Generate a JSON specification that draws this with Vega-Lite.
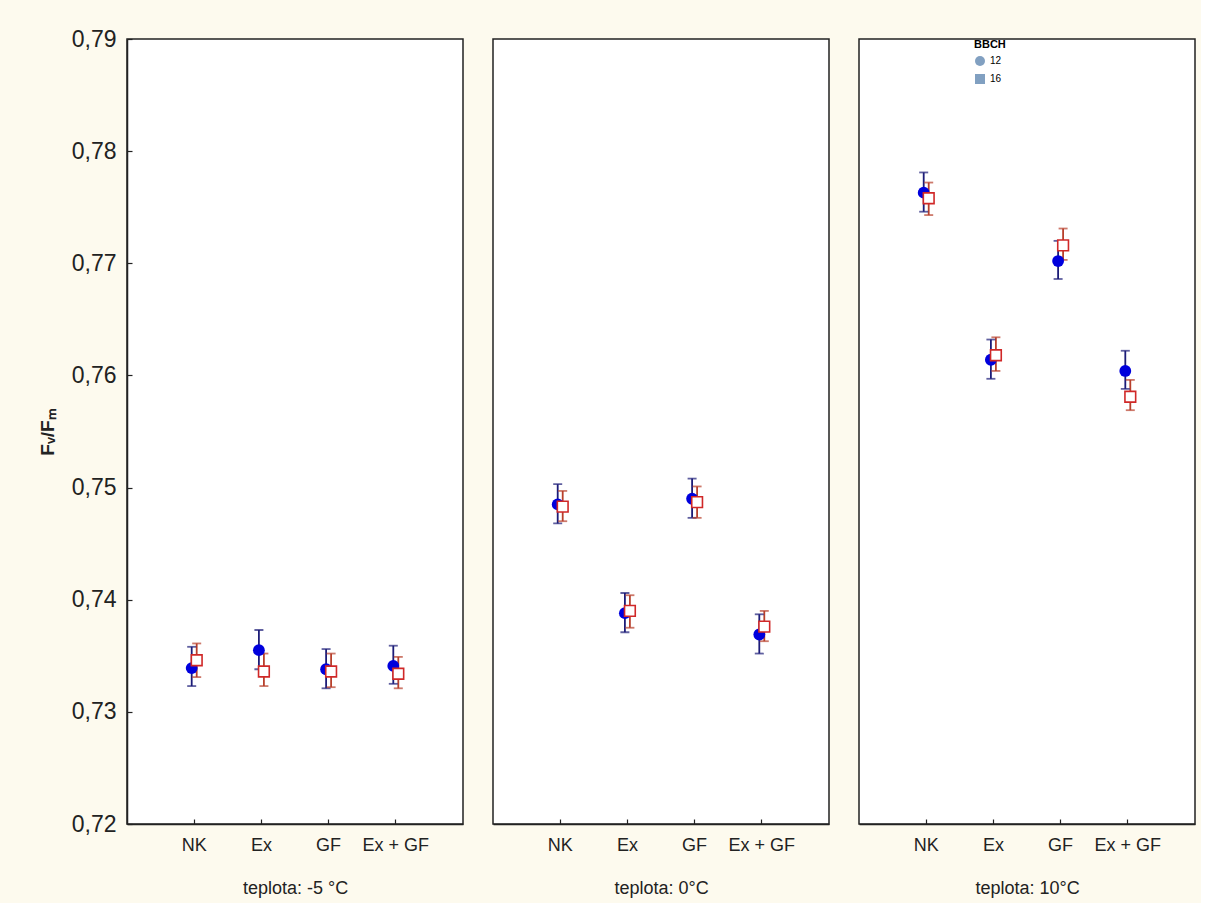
{
  "$schema": "https://vega.github.io/schema/vega-lite/v6.json",
  "background": "#fdfaee",
  "padding": {"left": 37, "top": 27, "right": 5, "bottom": 5},
  "spacing": 28,
  "config": {
    "view": {"fill": "white", "stroke": "#222222", "strokeWidth": 1.5},
    "axis": {"grid": false, "labelFont": "Liberation Sans", "labelFontSize": 18, "labelColor": "#222222", "titleColor": "#222222", "domainColor": "#222222", "tickColor": "#222222", "domainWidth": 1.5, "tickWidth": 1.2}
  },
  "data": {"values": [
    {"temp": "-5", "trt": "NK", "BBCH": "12", "mean": 0.7339, "lo": 0.7323, "hi": 0.7358},
    {"temp": "-5", "trt": "NK", "BBCH": "16", "mean": 0.7346, "lo": 0.7331, "hi": 0.7361},
    {"temp": "-5", "trt": "Ex", "BBCH": "12", "mean": 0.7355, "lo": 0.7338, "hi": 0.7373},
    {"temp": "-5", "trt": "Ex", "BBCH": "16", "mean": 0.7336, "lo": 0.7323, "hi": 0.7352},
    {"temp": "-5", "trt": "GF", "BBCH": "12", "mean": 0.7338, "lo": 0.7321, "hi": 0.7356},
    {"temp": "-5", "trt": "GF", "BBCH": "16", "mean": 0.7336, "lo": 0.7322, "hi": 0.7352},
    {"temp": "-5", "trt": "Ex + GF", "BBCH": "12", "mean": 0.7341, "lo": 0.7325, "hi": 0.7359},
    {"temp": "-5", "trt": "Ex + GF", "BBCH": "16", "mean": 0.7334, "lo": 0.7321, "hi": 0.7349},
    {"temp": "0", "trt": "NK", "BBCH": "12", "mean": 0.7485, "lo": 0.7468, "hi": 0.7503},
    {"temp": "0", "trt": "NK", "BBCH": "16", "mean": 0.7483, "lo": 0.7470, "hi": 0.7497},
    {"temp": "0", "trt": "Ex", "BBCH": "12", "mean": 0.7388, "lo": 0.7371, "hi": 0.7406},
    {"temp": "0", "trt": "Ex", "BBCH": "16", "mean": 0.7390, "lo": 0.7375, "hi": 0.7404},
    {"temp": "0", "trt": "GF", "BBCH": "12", "mean": 0.7490, "lo": 0.7473, "hi": 0.7508},
    {"temp": "0", "trt": "GF", "BBCH": "16", "mean": 0.7487, "lo": 0.7473, "hi": 0.7501},
    {"temp": "0", "trt": "Ex + GF", "BBCH": "12", "mean": 0.7369, "lo": 0.7352, "hi": 0.7387},
    {"temp": "0", "trt": "Ex + GF", "BBCH": "16", "mean": 0.7376, "lo": 0.7363, "hi": 0.7390},
    {"temp": "10", "trt": "NK", "BBCH": "12", "mean": 0.7763, "lo": 0.7746, "hi": 0.7781},
    {"temp": "10", "trt": "NK", "BBCH": "16", "mean": 0.7758, "lo": 0.7743, "hi": 0.7772},
    {"temp": "10", "trt": "Ex", "BBCH": "12", "mean": 0.7614, "lo": 0.7597, "hi": 0.7632},
    {"temp": "10", "trt": "Ex", "BBCH": "16", "mean": 0.7618, "lo": 0.7604, "hi": 0.7634},
    {"temp": "10", "trt": "GF", "BBCH": "12", "mean": 0.7702, "lo": 0.7686, "hi": 0.7720},
    {"temp": "10", "trt": "GF", "BBCH": "16", "mean": 0.7716, "lo": 0.7703, "hi": 0.7731},
    {"temp": "10", "trt": "Ex + GF", "BBCH": "12", "mean": 0.7604, "lo": 0.7588, "hi": 0.7622},
    {"temp": "10", "trt": "Ex + GF", "BBCH": "16", "mean": 0.7581, "lo": 0.7569, "hi": 0.7596}
  ]},
  "hconcat": [
    {
      "width": 336, "height": 785,
      "transform": [{"filter": "datum.temp == '-5'"}],
      "encoding": {
        "x": {"field": "trt", "type": "nominal", "scale": {"type": "band", "domain": ["NK", "Ex", "GF", "Ex + GF"], "paddingInner": 0, "paddingOuter": 0.5},
              "axis": {"title": "teplota: -5 °C", "labelAngle": 0, "tickSize": -5, "labelPadding": 17, "titlePadding": 25, "titleFont": "Liberation Sans", "titleFontSize": 18, "titleFontWeight": "normal"}},
        "xOffset": {"field": "BBCH", "type": "nominal", "scale": {"type": "point", "domain": ["12", "16"], "range": [28.6, 38.6]}}
      },
      "layer": [
        {"mark": {"type": "rule", "strokeWidth": 1.8},
         "encoding": {
           "y": {"field": "lo", "type": "quantitative", "scale": {"domain": [0.72, 0.79], "nice": false, "zero": false},
                 "axis": {"title": "Fᵥ/Fₘ", "titleFontSize": 19, "titleFontWeight": "bold", "titlePadding": 14, "labelFontSize": 23, "values": [0.72, 0.73, 0.74, 0.75, 0.76, 0.77, 0.78, 0.79], "labelExpr": "replace(format(datum.value, '.2f'), '.', ',')", "tickSize": -5, "labelPadding": 16}},
           "y2": {"field": "hi"},
           "color": {"field": "BBCH", "type": "nominal", "scale": {"domain": ["12", "16"], "range": ["#1c1c78", "#b8402c"]}, "legend": null}}},
        {"mark": {"type": "tick", "thickness": 1.8, "size": 9},
         "encoding": {"y": {"field": "lo", "type": "quantitative"}, "color": {"field": "BBCH", "type": "nominal", "legend": null}}},
        {"mark": {"type": "tick", "thickness": 1.8, "size": 9},
         "encoding": {"y": {"field": "hi", "type": "quantitative"}, "color": {"field": "BBCH", "type": "nominal", "legend": null}}},
        {"transform": [{"filter": "datum.BBCH == '12'"}],
         "mark": {"type": "point", "shape": "circle", "filled": true, "size": 140, "color": "#0000dd", "opacity": 1},
         "encoding": {"y": {"field": "mean", "type": "quantitative"}}},
        {"transform": [{"filter": "datum.BBCH == '16'"}],
         "mark": {"type": "point", "shape": "square", "filled": false, "fill": "white", "fillOpacity": 1, "stroke": "#d02828", "strokeWidth": 1.6, "size": 115, "opacity": 1},
         "encoding": {"y": {"field": "mean", "type": "quantitative"}}}
      ]
    },
    {
      "width": 336, "height": 785,
      "transform": [{"filter": "datum.temp == '0'"}],
      "encoding": {
        "x": {"field": "trt", "type": "nominal", "scale": {"type": "band", "domain": ["NK", "Ex", "GF", "Ex + GF"], "paddingInner": 0, "paddingOuter": 0.5},
              "axis": {"title": "teplota: 0°C", "labelAngle": 0, "tickSize": -5, "labelPadding": 17, "titlePadding": 25, "titleFont": "Liberation Sans", "titleFontSize": 18, "titleFontWeight": "normal"}},
        "xOffset": {"field": "BBCH", "type": "nominal", "scale": {"type": "point", "domain": ["12", "16"], "range": [28.6, 38.6]}}
      },
      "layer": [
        {"mark": {"type": "rule", "strokeWidth": 1.8},
         "encoding": {
           "y": {"field": "lo", "type": "quantitative", "scale": {"domain": [0.72, 0.79], "nice": false, "zero": false}, "axis": null},
           "y2": {"field": "hi"},
           "color": {"field": "BBCH", "type": "nominal", "scale": {"domain": ["12", "16"], "range": ["#1c1c78", "#b8402c"]}, "legend": null}}},
        {"mark": {"type": "tick", "thickness": 1.8, "size": 9},
         "encoding": {"y": {"field": "lo", "type": "quantitative", "axis": null}, "color": {"field": "BBCH", "type": "nominal", "legend": null}}},
        {"mark": {"type": "tick", "thickness": 1.8, "size": 9},
         "encoding": {"y": {"field": "hi", "type": "quantitative", "axis": null}, "color": {"field": "BBCH", "type": "nominal", "legend": null}}},
        {"transform": [{"filter": "datum.BBCH == '12'"}],
         "mark": {"type": "point", "shape": "circle", "filled": true, "size": 140, "color": "#0000dd", "opacity": 1},
         "encoding": {"y": {"field": "mean", "type": "quantitative", "axis": null}}},
        {"transform": [{"filter": "datum.BBCH == '16'"}],
         "mark": {"type": "point", "shape": "square", "filled": false, "fill": "white", "fillOpacity": 1, "stroke": "#d02828", "strokeWidth": 1.6, "size": 115, "opacity": 1},
         "encoding": {"y": {"field": "mean", "type": "quantitative", "axis": null}}}
      ]
    },
    {
      "width": 336, "height": 785,
      "transform": [{"filter": "datum.temp == '10'"}],
      "encoding": {
        "x": {"field": "trt", "type": "nominal", "scale": {"type": "band", "domain": ["NK", "Ex", "GF", "Ex + GF"], "paddingInner": 0, "paddingOuter": 0.5},
              "axis": {"title": "teplota: 10°C", "labelAngle": 0, "tickSize": -5, "labelPadding": 17, "titlePadding": 25, "titleFont": "Liberation Sans", "titleFontSize": 18, "titleFontWeight": "normal"}},
        "xOffset": {"field": "BBCH", "type": "nominal", "scale": {"type": "point", "domain": ["12", "16"], "range": [28.6, 38.6]}}
      },
      "layer": [
        {"mark": {"type": "rule", "strokeWidth": 1.8},
         "encoding": {
           "y": {"field": "lo", "type": "quantitative", "scale": {"domain": [0.72, 0.79], "nice": false, "zero": false}, "axis": null},
           "y2": {"field": "hi"},
           "color": {"field": "BBCH", "type": "nominal", "scale": {"domain": ["12", "16"], "range": ["#1c1c78", "#b8402c"]}, "legend": null}}},
        {"mark": {"type": "tick", "thickness": 1.8, "size": 9},
         "encoding": {"y": {"field": "lo", "type": "quantitative", "axis": null}, "color": {"field": "BBCH", "type": "nominal", "legend": null}}},
        {"mark": {"type": "tick", "thickness": 1.8, "size": 9},
         "encoding": {"y": {"field": "hi", "type": "quantitative", "axis": null}, "color": {"field": "BBCH", "type": "nominal", "legend": null}}},
        {"transform": [{"filter": "datum.BBCH == '12'"}],
         "mark": {"type": "point", "shape": "circle", "filled": true, "size": 140, "color": "#0000dd", "opacity": 1},
         "encoding": {"y": {"field": "mean", "type": "quantitative", "axis": null}}},
        {"transform": [{"filter": "datum.BBCH == '16'"}],
         "mark": {"type": "point", "shape": "square", "filled": false, "fill": "white", "fillOpacity": 1, "stroke": "#d02828", "strokeWidth": 1.6, "size": 115, "opacity": 1},
         "encoding": {"y": {"field": "mean", "type": "quantitative", "axis": null}}},
        {"mark": {"type": "point", "filled": true, "size": 0},
         "encoding": {
           "y": {"field": "mean", "type": "quantitative", "axis": null},
           "shape": {"field": "BBCH", "type": "nominal", "title": "BBCH", "legend": {"offset": -222}}
         }}
      ]
    }
  ]
}
